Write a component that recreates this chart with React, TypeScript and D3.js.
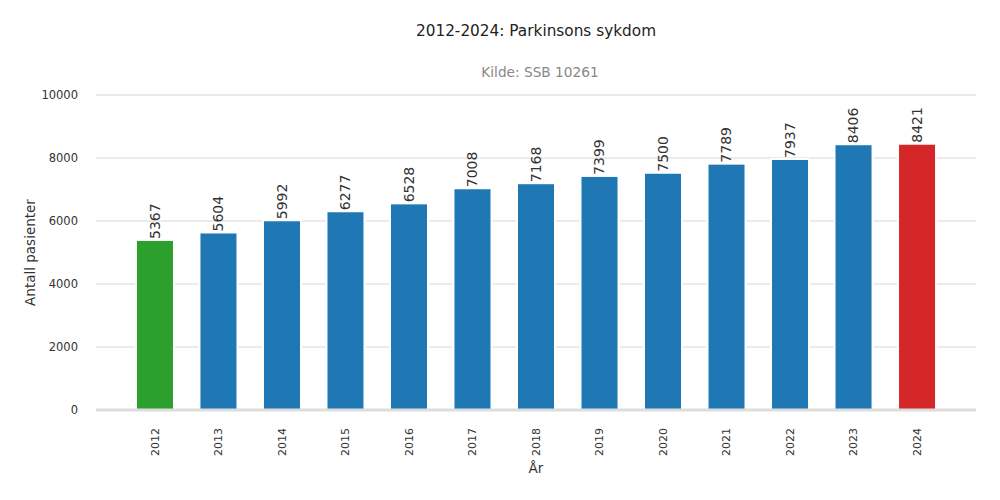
import { useEffect, useRef } from "react";
import * as d3 from "d3";

const years = ["2012", "2013", "2014", "2015", "2016", "2017", "2018", "2019", "2020", "2021", "2022", "2023", "2024"];
const patients = [5367, 5604, 5992, 6277, 6528, 7008, 7168, 7399, 7500, 7789, 7937, 8406, 8421];
const yTicks = [0, 2000, 4000, 6000, 8000, 10000];

const title = "2012-2024: Parkinsons sykdom";
const subtitle = "Kilde: SSB 10261";
const yLabel = "Antall pasienter";
const xLabel = "År";

export default function App() {
  const svgRef = useRef<SVGSVGElement>(null);

  useEffect(() => {
    if (!svgRef.current) return;
    const width = 1000;
    const height = 500;
    const margin = { top: 95, right: 24, bottom: 90, left: 96 };
    const font = "DejaVu Sans, sans-serif";

    const svg = d3.select(svgRef.current);
    svg.selectAll("*").remove();

    const x = d3.scaleBand<string>()
      .domain(years)
      .range([margin.left, width - margin.right])
      .paddingInner(0.433)
      .paddingOuter(0.645);

    const y = d3.scaleLinear()
      .domain([0, 10000])
      .range([height - margin.bottom, margin.top]);

    // grid
    svg.append("g")
      .selectAll("line")
      .data(yTicks.filter(d => d > 0))
      .join("line")
      .attr("x1", margin.left)
      .attr("x2", width - margin.right)
      .attr("y1", d => y(d))
      .attr("y2", d => y(d))
      .attr("stroke", "#ebebeb")
      .attr("stroke-width", 2);

    // y tick labels
    svg.append("g")
      .selectAll("text")
      .data(yTicks)
      .join("text")
      .attr("x", margin.left - 18)
      .attr("y", d => y(d))
      .attr("dy", "0.35em")
      .attr("text-anchor", "end")
      .attr("font-family", font)
      .attr("font-size", 11.5)
      .attr("fill", "#333")
      .text(d => String(d));

    const barColor = (i: number) =>
      i === 0 ? "#2ca02c" : i === years.length - 1 ? "#d62728" : "#1f77b4";

    svg.append("g")
      .selectAll("rect")
      .data(patients)
      .join("rect")
      .attr("x", (d, i) => x(years[i])!)
      .attr("y", d => y(d))
      .attr("width", x.bandwidth())
      .attr("height", d => y(0) - y(d))
      .attr("fill", (d, i) => barColor(i))
      .attr("stroke", "#fff")
      .attr("stroke-width", 4)
      .attr("paint-order", "stroke");

    // baseline
    svg.append("line")
      .attr("x1", margin.left)
      .attr("x2", width - margin.right)
      .attr("y1", y(0))
      .attr("y2", y(0))
      .attr("stroke", "#dddddd")
      .attr("stroke-width", 3);

    // value labels
    svg.append("g")
      .selectAll("text")
      .data(patients)
      .join("text")
      .attr("transform", (d, i) => `translate(${x(years[i])! + x.bandwidth() / 2},${y(d) - 2}) rotate(-90)`)
      .attr("dy", "0.35em")
      .attr("font-family", font)
      .attr("font-size", 14)
      .attr("fill", "#333")
      .text(d => String(d));

    // x tick labels
    svg.append("g")
      .selectAll("text")
      .data(years)
      .join("text")
      .attr("transform", d => `translate(${x(d)! + x.bandwidth() / 2},${y(0) + 18}) rotate(-90)`)
      .attr("dy", "0.35em")
      .attr("text-anchor", "end")
      .attr("font-family", font)
      .attr("font-size", 11)
      .attr("fill", "#333")
      .text(d => d);

    svg.append("text")
      .attr("x", (margin.left + width - margin.right) / 2)
      .attr("y", 468)
      .attr("dy", "0.35em")
      .attr("text-anchor", "middle")
      .attr("font-family", font)
      .attr("font-size", 13.5)
      .attr("fill", "#333")
      .text(xLabel);

    svg.append("text")
      .attr("transform", `translate(30,${(margin.top + height - margin.bottom) / 2}) rotate(-90)`)
      .attr("dy", "0.35em")
      .attr("text-anchor", "middle")
      .attr("font-family", font)
      .attr("font-size", 13.5)
      .attr("fill", "#333")
      .text(yLabel);

    svg.append("text")
      .attr("x", 536)
      .attr("y", 31)
      .attr("dy", "0.35em")
      .attr("text-anchor", "middle")
      .attr("font-family", font)
      .attr("font-size", 15.3)
      .attr("fill", "#222")
      .text(title);

    svg.append("text")
      .attr("x", 540)
      .attr("y", 72)
      .attr("dy", "0.35em")
      .attr("text-anchor", "middle")
      .attr("font-family", font)
      .attr("font-size", 13.7)
      .attr("fill", "#888")
      .text(subtitle);
  }, []);

  return (
    <svg
      ref={svgRef}
      width={1000}
      height={500}
      style={{ position: "absolute", left: 0, top: 0, background: "#fff" }}
    />
  );
}
